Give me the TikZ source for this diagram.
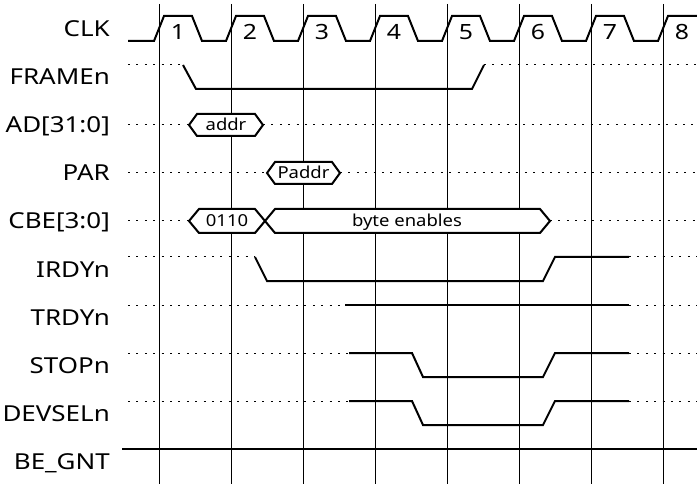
\documentclass[tikz,border=0pt]{standalone}
\usepackage{fontspec}
\setmainfont[FakeStretch=1.12]{Noto Sans}
\newfontfamily\lblfont[FakeStretch=1.18]{Noto Sans}
\begin{document}
\begin{tikzpicture}[x=1pt,y=-1pt,
  sig/.style={line width=2pt, line join=miter},
  dots/.style={line width=1pt, dash pattern=on 2pt off 6.4pt},
  gridline/.style={line width=1pt},
  lbl/.style={anchor=base east, inner sep=0pt, font=\lblfont\fontsize{22}{26}\selectfont},
  num/.style={anchor=base, inner sep=0pt, font=\lblfont\fontsize{21}{25}\selectfont},
  bus/.style={line width=2pt, line join=miter, fill=white},
  bustxt/.style={anchor=base, inner sep=0pt, font=\fontsize{16.5}{19}\selectfont}]
\useasboundingbox (0,0) rectangle (697,484);
% clock edge grid
\foreach \k in {0,...,7}{
  \draw[gridline] ({159+72*\k},4) -- ({159+72*\k},484);
}
% labels
\node[lbl] (lclk) at (110,37) {CLK};
\node[lbl] (lframe) at (110,85) {FRAMEn};
\node[lbl] (lad) at (110,133) {AD[31:0]};
\node[lbl] (lpar) at (110,181) {PAR};
\node[lbl] (lcbe) at (110,229) {CBE[3:0]};
\node[lbl] (lirdy) at (110,277) {IRDYn};
\node[lbl] (ltrdy) at (110,325) {TRDYn};
\node[lbl] (lstop) at (110,373) {STOPn};
\node[lbl] (ldevsel) at (110,421) {DEVSELn};
\node[lbl] (lgnt) at (110,469) {BE\_GNT};
% clock
\draw[sig] (128,41) -- (154,41)
  \foreach \k in {0,...,6}{
    -- ({154+72*\k},41) -- ({164+72*\k},16) -- ({192+72*\k},16) -- ({202+72*\k},41) -- ({226+72*\k},41)
  } -- (658,41) -- (668,16) -- (697,16);
\foreach \k in {1,...,8}{
  \node[num] (c\k) at ({159+72*(\k-1)+19},39.5) {\k};
}
% FRAMEn
\draw[dots] (128,65) -- (183,65);
\draw[sig] (183,65) -- (196,89) -- (472,89) -- (484,65);
\draw[dots] (484,65) -- (697,65);
% AD
\draw[dots] (128,125) -- (189,125);
\draw[dots] (263,125) -- (697,125);
\draw[bus] (189,125) -- (197,114) -- (255,114) -- (263,125) -- (255,136) -- (197,136) -- cycle;
\node[bustxt] (addr) at (226,131) {addr};
% PAR
\draw[dots] (128,173) -- (267,173);
\draw[dots] (340,173) -- (697,173);
\draw[bus] (267,173) -- (275,162) -- (332,162) -- (340,173) -- (332,184) -- (275,184) -- cycle;
\node[bustxt] (paddr) at (303.5,179) {Paddr};
% CBE
\draw[dots] (128,221) -- (189,221);
\draw[dots] (550,221) -- (697,221);
\draw[bus] (189,221) -- (199,209) -- (255,209) -- (265,221) -- (255,233) -- (199,233) -- cycle;
\draw[bus] (265,221) -- (275,209) -- (540,209) -- (550,221) -- (540,233) -- (275,233) -- cycle;
\node[bustxt] (cbe0) at (227,227) {0110};
\node[bustxt] (cbe1) at (407,227) {byte enables};
% IRDYn
\draw[dots] (128,257) -- (255,257);
\draw[sig] (255,257) -- (267,281) -- (543,281) -- (555,257) -- (629,257);
\draw[dots] (629,257) -- (697,257);
% TRDYn
\draw[dots] (128,305) -- (345,305);
\draw[sig] (345,305) -- (629,305);
\draw[dots] (629,305) -- (697,305);
% STOPn
\draw[dots] (128,353) -- (349,353);
\draw[sig] (349,353) -- (412,353) -- (423,377) -- (543,377) -- (555,353) -- (629,353);
\draw[dots] (629,353) -- (697,353);
% DEVSELn
\draw[dots] (128,401) -- (349,401);
\draw[sig] (349,401) -- (412,401) -- (423,425) -- (543,425) -- (555,401) -- (629,401);
\draw[dots] (629,401) -- (697,401);
% BE_GNT
\draw[sig] (122,449) -- (697,449);
\end{tikzpicture}
\end{document}
